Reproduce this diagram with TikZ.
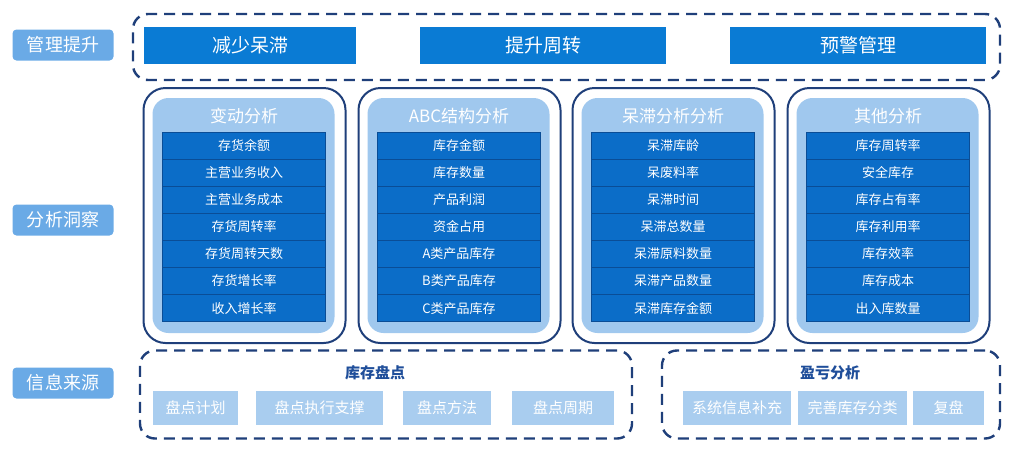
\documentclass[tikz,border=0pt]{standalone}
\usepackage{fontspec}
\setmainfont{Noto Sans CJK SC}
\definecolor{navy}{HTML}{1F3F7A}
\definecolor{topblue}{HTML}{0A7BD4}
\definecolor{itemblue}{HTML}{0B6DC8}
\definecolor{itemedge}{HTML}{0A4D96}
\definecolor{innerblue}{HTML}{A0C8EE}
\definecolor{lblblue}{HTML}{6AAAE6}
\definecolor{subblue}{HTML}{A9CDEF}
\definecolor{titlenavy}{HTML}{1F4E9A}
\tikzset{
  lbl/.style={fill=lblblue, rounded corners=4pt, minimum width=101pt, minimum height=31pt, inner sep=0pt, text=white, font=\fontsize{18}{18}\selectfont},
  dashbox/.style={draw=navy, line width=2.4pt, dash pattern=on 11pt off 7pt, rounded corners=15pt, inner sep=0pt},
  topbox/.style={fill=topblue, minimum height=37pt, inner sep=0pt, text=white, font=\fontsize{19}{19}\selectfont},
  outerpanel/.style={draw=navy, line width=2pt, fill=white, rounded corners=22pt, minimum width=202pt, minimum height=255pt, inner sep=0pt},
  innerpanel/.style={fill=innerblue, rounded corners=16pt, minimum width=182pt, minimum height=235pt, inner sep=0pt},
  ptitle/.style={text=white, font=\fontsize{17}{17}\selectfont, inner sep=0pt},
  itembox/.style={fill=itemblue, draw=itemedge, line width=0.8pt, minimum width=163pt, minimum height=27.1pt, inner sep=0pt, text=white, font=\fontsize{13}{13}\selectfont},
  subbox/.style={fill=subblue, minimum height=34pt, inner sep=0pt, text=white, font=\fontsize{15}{15}\selectfont},
  btitle/.style={text=titlenavy, font=\fontsize{15}{15}\selectfont\bfseries, inner sep=0pt}
}
\begin{document}
\begin{tikzpicture}[x=1pt,y=-1pt]
\useasboundingbox (0,0) rectangle (1024,448);
% left labels
\node[lbl] (l1) at (63,45) {管理提升};
\node[lbl] (l2) at (63,220) {分析洞察};
\node[lbl] (l3) at (63,383) {信息来源};
% top row
\node[dashbox, minimum width=867pt, minimum height=66pt] (topframe) at (566.5,47) {};
\node[topbox, minimum width=212pt] (t1) at (250,45) {减少呆滞};
\node[topbox, minimum width=246pt] (t2) at (543,45) {提升周转};
\node[topbox, minimum width=256pt] (t3) at (858,45) {预警管理};
% panels
\foreach \cx/\name/\ttl/\a/\b/\c/\d/\e/\f/\g in {
  244/pa/变动分析/存货余额/主营业务收入/主营业务成本/存货周转率/存货周转天数/存货增长率/收入增长率,
  459/pb/ABC结构分析/库存金额/库存数量/产品利润/资金占用/A类产品库存/B类产品库存/C类产品库存,
  673/pc/呆滞分析分析/呆滞库龄/呆废料率/呆滞时间/呆滞总数量/呆滞原料数量/呆滞产品数量/呆滞库存金额,
  888/pd/其他分析/库存周转率/安全库存/库存占有率/库存利用率/库存效率/库存成本/出入库数量}{
  \node[outerpanel] (\name-o) at (\cx+0.5,215.5) {};
  \node[innerpanel] (\name-i) at (\cx-0.5,215.5) {};
  \node[ptitle] (\name-t) at (\cx,116) {\ttl};
  \node[itembox] (\name-1) at (\cx,145.5) {\a};
  \node[itembox] (\name-2) at (\cx,172.6) {\b};
  \node[itembox] (\name-3) at (\cx,199.7) {\c};
  \node[itembox] (\name-4) at (\cx,226.8) {\d};
  \node[itembox] (\name-5) at (\cx,253.9) {\e};
  \node[itembox] (\name-6) at (\cx,281.0) {\f};
  \node[itembox] (\name-7) at (\cx,308.1) {\g};
}
% bottom left
\node[dashbox, minimum width=492pt, minimum height=88pt] (bl) at (386,394.5) {};
\node[btitle] (blt) at (375,373) {库存盘点};
\node[subbox, minimum width=85pt] (b1) at (195.5,408) {盘点计划};
\node[subbox, minimum width=127pt] (b2) at (319.5,408) {盘点执行支撑};
\node[subbox, minimum width=88pt] (b3) at (447,408) {盘点方法};
\node[subbox, minimum width=102pt] (b4) at (563,408) {盘点周期};
% bottom right
\node[dashbox, minimum width=338pt, minimum height=88pt] (br) at (831,394.5) {};
\node[btitle] (brt) at (830,373) {盈亏分析};
\node[subbox, minimum width=108pt] (c1) at (737,408) {系统信息补充};
\node[subbox, minimum width=109pt] (c2) at (852.5,408) {完善库存分类};
\node[subbox, minimum width=71pt] (c3) at (948.5,408) {复盘};
\end{tikzpicture}
\end{document}
